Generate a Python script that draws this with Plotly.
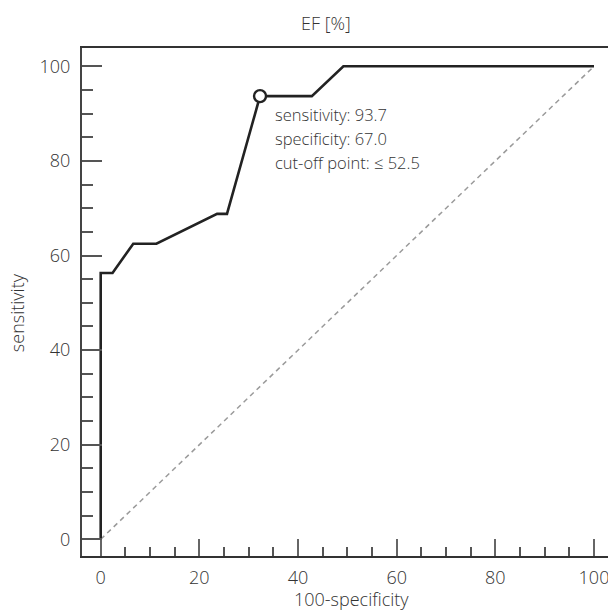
import plotly.graph_objects as go

# ROC curve data
fpr = [0, 0, 2.4, 6.6, 11.3, 23.6, 25.6, 32.3, 42.8, 49.2, 100]
sens = [0, 56.3, 56.3, 62.5, 62.5, 68.8, 68.8, 93.7, 93.7, 100, 100]
ref_x = [0, 100]
ref_y = [0, 100]
cut_x = [32.3]
cut_y = [93.7]
cut_labels = ["sensitivity: 93.7", "specificity: 67.0", "cut-off point: ≤ 52.5"]
major_ticks = [0, 20, 40, 60, 80, 100]

FONT = "Open Sans"
TXT = "#333333"

fig = go.Figure()
fig.add_trace(go.Scatter(x=ref_x, y=ref_y, mode="lines",
                         line=dict(color="#9a9a9a", width=1.5, dash="5px,4px"),
                         hoverinfo="skip", showlegend=False))
fig.add_trace(go.Scatter(x=fpr, y=sens, mode="lines",
                         line=dict(color="#222222", width=2.6),
                         showlegend=False))
fig.add_trace(go.Scatter(x=cut_x, y=cut_y, mode="markers",
                         marker=dict(symbol="circle", size=12, color="white",
                                     line=dict(color="#222222", width=2.4)),
                         showlegend=False))

for i, t in enumerate(cut_labels):
    fig.add_annotation(x=cut_x[0], y=cut_y[0], xref="x", yref="y", text=t,
                       showarrow=False, xanchor="left", yanchor="middle",
                       xshift=13, yshift=-18 - 24 * i,
                       font=dict(family=FONT, size=16.5, color=TXT, weight=300))

fig.add_annotation(x=0.464, y=1.049, xref="paper", yref="paper", text="EF [%]",
                   showarrow=False, xanchor="center", yanchor="middle",
                   font=dict(family=FONT, size=18, color=TXT, weight=300))
fig.add_annotation(x=0.513, y=-0.0846, xref="paper", yref="paper", text="100-specificity",
                   showarrow=False, xanchor="center", yanchor="middle",
                   font=dict(family=FONT, size=18, color=TXT, weight=300))
fig.add_annotation(x=-0.1236, y=0.48, xref="paper", yref="paper", text="sensitivity",
                   showarrow=False, xanchor="center", yanchor="middle", textangle=-90,
                   font=dict(family=FONT, size=18, color=TXT, weight=300))

fig.update_layout(
    width=608, height=610,
    margin=dict(l=82, r=0, t=48, b=54),
    paper_bgcolor="white", plot_bgcolor="white",
    font=dict(family=FONT, size=18, color=TXT, weight=300),
    showlegend=False,
)
fig.update_xaxes(range=[-3.79, 102.84], tickmode="array", tickvals=major_ticks,
                 ticks="inside", ticklen=17.5, tickwidth=1.6, tickcolor="#666666",
                 minor=dict(ticks="inside", ticklen=9, tickwidth=1.6, tickcolor="#555555", dtick=5, tick0=0,
                            showgrid=False),
                 showline=True, linecolor="#333333", linewidth=2, mirror=True,
                 showgrid=False, zeroline=False, ticklabelstandoff=4,
                 ticklabeloverflow="allow",
                 tickfont=dict(family=FONT, size=18, color=TXT, weight=300))
fig.update_yaxes(range=[-3.53, 103.87], tickmode="array", tickvals=major_ticks,
                 ticks="inside", ticklen=20, tickwidth=1.6, tickcolor="#555555",
                 minor=dict(ticks="inside", ticklen=10.5, tickwidth=1.6, tickcolor="#555555", dtick=5, tick0=0,
                            showgrid=False),
                 showline=True, linecolor="#444444", linewidth=2.2, mirror=False,
                 showgrid=False, zeroline=False, ticklabelstandoff=6,
                 tickfont=dict(family=FONT, size=18, color=TXT, weight=300))

fig.write_html("out.html", config={"displayModeBar": False},
               post_script="document.body.style.margin='0px';document.body.style.overflow='hidden';")
